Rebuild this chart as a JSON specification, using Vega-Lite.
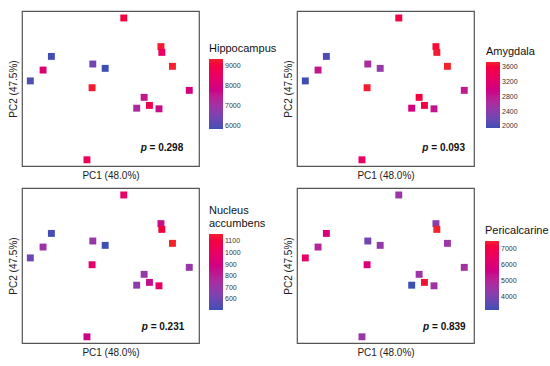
{
  "$schema": "https://vega.github.io/schema/vega-lite/v6.json",
  "padding": {"left": 7, "top": 10, "right": 0, "bottom": 0},
  "background": "white",
  "config": {
    "font": "Liberation Sans",
    "view": {"stroke": "#555", "strokeWidth": 1.2},
    "axis": {"titleFontSize": 10, "titleFontWeight": "normal", "titleColor": "#222", "labels": false, "ticks": false, "domain": false, "grid": false, "titlePadding": 4},
    "legend": {"titleFontSize": 11, "titleFontWeight": "normal", "titleColor": "#111", "labelFontSize": 7, "labelColor": "#333", "padding": 0, "labelOffset": 5, "titlePadding": 5, "gradientThickness": 14, "gradientStrokeWidth": 0, "direction": "vertical", "orient": "none", "titleLimit": 200, "labelOverlap": false}
  },
  "resolve": {"scale": {"color": "independent"}, "legend": {"color": "independent"}},
  "datasets": {
    "pts": [
      {"id": 1, "pc1": 57.5, "pc2": 95.5, "hippocampus": 9100, "amygdala": 3550, "nucleus": 1000, "pericalcarine": 4500},
      {"id": 2, "pc1": 78.5, "pc2": 77.0, "hippocampus": 9300, "amygdala": 3650, "nucleus": 850, "pericalcarine": 4200},
      {"id": 3, "pc1": 79.0, "pc2": 73.3, "hippocampus": 8500, "amygdala": 3700, "nucleus": 1120, "pericalcarine": 7475},
      {"id": 4, "pc1": 85.0, "pc2": 64.3, "hippocampus": 9370, "amygdala": 3735, "nucleus": 1165, "pericalcarine": 4500},
      {"id": 5, "pc1": 16.6, "pc2": 70.7, "hippocampus": 5900, "amygdala": 2050, "nucleus": 520, "pericalcarine": 5900},
      {"id": 6, "pc1": 11.9, "pc2": 61.9, "hippocampus": 8200, "amygdala": 2850, "nucleus": 720, "pericalcarine": 5000},
      {"id": 7, "pc1": 4.7, "pc2": 54.9, "hippocampus": 6000, "amygdala": 1955, "nucleus": 600, "pericalcarine": 6300},
      {"id": 8, "pc1": 40.0, "pc2": 65.8, "hippocampus": 6400, "amygdala": 2650, "nucleus": 700, "pericalcarine": 3900},
      {"id": 9, "pc1": 47.0, "pc2": 63.0, "hippocampus": 5850, "amygdala": 2450, "nucleus": 505, "pericalcarine": 4400},
      {"id": 10, "pc1": 39.6, "pc2": 50.5, "hippocampus": 9300, "amygdala": 3700, "nucleus": 970, "pericalcarine": 5900},
      {"id": 11, "pc1": 94.5, "pc2": 48.8, "hippocampus": 8000, "amygdala": 2800, "nucleus": 700, "pericalcarine": 4700},
      {"id": 12, "pc1": 69.0, "pc2": 44.3, "hippocampus": 7600, "amygdala": 3600, "nucleus": 700, "pericalcarine": 4500},
      {"id": 13, "pc1": 64.8, "pc2": 37.3, "hippocampus": 7200, "amygdala": 3000, "nucleus": 680, "pericalcarine": 3190},
      {"id": 14, "pc1": 72.0, "pc2": 39.1, "hippocampus": 8900, "amygdala": 3550, "nucleus": 850, "pericalcarine": 7300},
      {"id": 15, "pc1": 77.4, "pc2": 36.9, "hippocampus": 7700, "amygdala": 2850, "nucleus": 1000, "pericalcarine": 4600},
      {"id": 16, "pc1": 36.7, "pc2": 4.0, "hippocampus": 8700, "amygdala": 3300, "nucleus": 870, "pericalcarine": 4500}
    ],
    "pv": [
      {"panel": "hip", "px": 91.1, "py": 11.6, "label": "= 0.298"},
      {"panel": "amy", "px": 94.9, "py": 11.8, "label": "= 0.093"},
      {"panel": "nac", "px": 91.7, "py": 10.5, "label": "= 0.231"},
      {"panel": "peri", "px": 95.3, "py": 10.5, "label": "= 0.839"}
    ]
  },
  "columns": 2,
  "spacing": {"row": 22, "column": 98},
  "bounds": "flush",
  "concat": [
    {
      "width": 177, "height": 155,
      "layer": [
        {
          "data": {"name": "pts"},
          "mark": {"type": "point", "shape": "square", "filled": true, "opacity": 1, "size": 48},
          "encoding": {
            "x": {"field": "pc1", "type": "quantitative", "scale": {"domain": [0, 100], "nice": false, "zero": false}, "axis": {"title": "PC1 (48.0%)"}},
            "y": {"field": "pc2", "type": "quantitative", "scale": {"domain": [0, 100], "nice": false, "zero": false}, "axis": {"title": "PC2 (47.5%)"}},
            "color": {"field": "hippocampus", "type": "quantitative",
              "scale": {"domain": [5850, 9370], "range": ["#3d4fb3", "#c2158d", "#f5212b"], "nice": false, "zero": false},
              "legend": {"title": "Hippocampus", "format": "d", "values": [6000, 7000, 8000, 9000], "legendX": 187, "legendY": 32, "gradientLength": 70}}
          }
        },
        {
          "data": {"name": "pv"},
          "transform": [{"filter": "datum.panel === 'hip'"}],
          "layer": [
            {"mark": {"type": "text", "fontWeight": "bold", "fontSize": 10, "align": "right", "baseline": "middle", "color": "#111"},
             "encoding": {"x": {"field": "px", "type": "quantitative"}, "y": {"field": "py", "type": "quantitative"}, "text": {"field": "label"}}},
            {"mark": {"type": "text", "fontWeight": "bold", "fontStyle": "italic", "fontSize": 10, "align": "right", "baseline": "middle", "dx": -36.5, "color": "#111", "text": "p"},
             "encoding": {"x": {"field": "px", "type": "quantitative"}, "y": {"field": "py", "type": "quantitative"}}}
          ]
        }
      ]
    },
    {
      "width": 177, "height": 155,
      "layer": [
        {
          "data": {"name": "pts"},
          "mark": {"type": "point", "shape": "square", "filled": true, "opacity": 1, "size": 48},
          "encoding": {
            "x": {"field": "pc1", "type": "quantitative", "scale": {"domain": [0, 100], "nice": false, "zero": false}, "axis": {"title": "PC1 (48.0%)"}},
            "y": {"field": "pc2", "type": "quantitative", "scale": {"domain": [0, 100], "nice": false, "zero": false}, "axis": {"title": "PC2 (47.5%)"}},
            "color": {"field": "amygdala", "type": "quantitative",
              "scale": {"domain": [1955, 3735], "range": ["#3d4fb3", "#c2158d", "#f5212b"], "nice": false, "zero": false},
              "legend": {"title": "Amygdala", "format": "d", "values": [2000, 2400, 2800, 3200, 3600], "legendX": 189, "legendY": 35, "gradientLength": 66}}
          }
        },
        {
          "data": {"name": "pv"},
          "transform": [{"filter": "datum.panel === 'amy'"}],
          "layer": [
            {"mark": {"type": "text", "fontWeight": "bold", "fontSize": 10, "align": "right", "baseline": "middle", "color": "#111"},
             "encoding": {"x": {"field": "px", "type": "quantitative"}, "y": {"field": "py", "type": "quantitative"}, "text": {"field": "label"}}},
            {"mark": {"type": "text", "fontWeight": "bold", "fontStyle": "italic", "fontSize": 10, "align": "right", "baseline": "middle", "dx": -36.5, "color": "#111", "text": "p"},
             "encoding": {"x": {"field": "px", "type": "quantitative"}, "y": {"field": "py", "type": "quantitative"}}}
          ]
        }
      ]
    },
    {
      "width": 177, "height": 155,
      "layer": [
        {
          "data": {"name": "pts"},
          "mark": {"type": "point", "shape": "square", "filled": true, "opacity": 1, "size": 48},
          "encoding": {
            "x": {"field": "pc1", "type": "quantitative", "scale": {"domain": [0, 100], "nice": false, "zero": false}, "axis": {"title": "PC1 (48.0%)"}},
            "y": {"field": "pc2", "type": "quantitative", "scale": {"domain": [0, 100], "nice": false, "zero": false}, "axis": {"title": "PC2 (47.5%)"}},
            "color": {"field": "nucleus", "type": "quantitative",
              "scale": {"domain": [505, 1165], "range": ["#3d4fb3", "#c2158d", "#f5212b"], "nice": false, "zero": false},
              "legend": {"title": ["Nucleus", "accumbens"], "format": "d", "values": [600, 700, 800, 900, 1000, 1100], "legendX": 187, "legendY": 17, "gradientLength": 76}}
          }
        },
        {
          "data": {"name": "pv"},
          "transform": [{"filter": "datum.panel === 'nac'"}],
          "layer": [
            {"mark": {"type": "text", "fontWeight": "bold", "fontSize": 10, "align": "right", "baseline": "middle", "color": "#111"},
             "encoding": {"x": {"field": "px", "type": "quantitative"}, "y": {"field": "py", "type": "quantitative"}, "text": {"field": "label"}}},
            {"mark": {"type": "text", "fontWeight": "bold", "fontStyle": "italic", "fontSize": 10, "align": "right", "baseline": "middle", "dx": -36.5, "color": "#111", "text": "p"},
             "encoding": {"x": {"field": "px", "type": "quantitative"}, "y": {"field": "py", "type": "quantitative"}}}
          ]
        }
      ]
    },
    {
      "width": 177, "height": 155,
      "layer": [
        {
          "data": {"name": "pts"},
          "mark": {"type": "point", "shape": "square", "filled": true, "opacity": 1, "size": 48},
          "encoding": {
            "x": {"field": "pc1", "type": "quantitative", "scale": {"domain": [0, 100], "nice": false, "zero": false}, "axis": {"title": "PC1 (48.0%)"}},
            "y": {"field": "pc2", "type": "quantitative", "scale": {"domain": [0, 100], "nice": false, "zero": false}, "axis": {"title": "PC2 (47.5%)"}},
            "color": {"field": "pericalcarine", "type": "quantitative",
              "scale": {"domain": [3190, 7475], "range": ["#3d4fb3", "#c2158d", "#f5212b"], "nice": false, "zero": false},
              "legend": {"title": "Pericalcarine", "format": "d", "values": [4000, 5000, 6000, 7000], "legendX": 188, "legendY": 37, "gradientLength": 69}}
          }
        },
        {
          "data": {"name": "pv"},
          "transform": [{"filter": "datum.panel === 'peri'"}],
          "layer": [
            {"mark": {"type": "text", "fontWeight": "bold", "fontSize": 10, "align": "right", "baseline": "middle", "color": "#111"},
             "encoding": {"x": {"field": "px", "type": "quantitative"}, "y": {"field": "py", "type": "quantitative"}, "text": {"field": "label"}}},
            {"mark": {"type": "text", "fontWeight": "bold", "fontStyle": "italic", "fontSize": 10, "align": "right", "baseline": "middle", "dx": -36.5, "color": "#111", "text": "p"},
             "encoding": {"x": {"field": "px", "type": "quantitative"}, "y": {"field": "py", "type": "quantitative"}}}
          ]
        }
      ]
    }
  ]
}
